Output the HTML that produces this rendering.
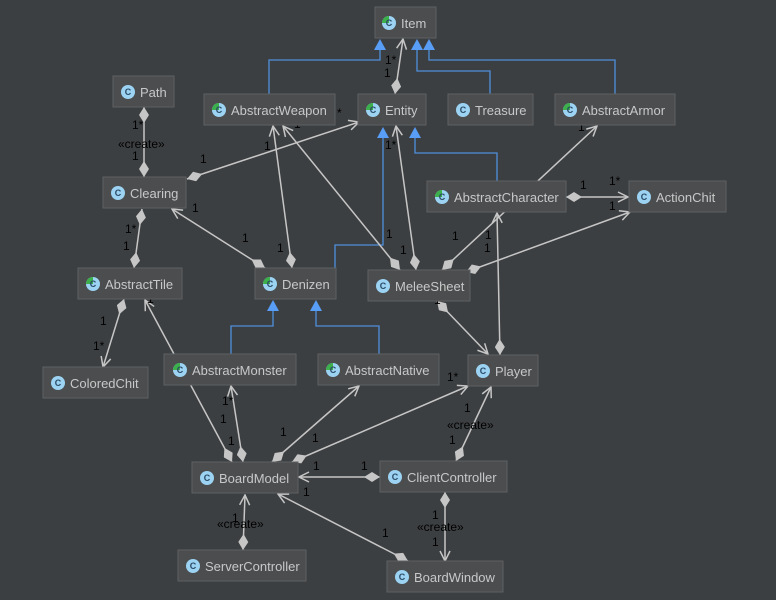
<!DOCTYPE html>
<html><head><meta charset="utf-8"><style>
html,body{margin:0;padding:0;background:#3c3f41;}
svg{display:block;font-family:"Liberation Sans",sans-serif;}
.n rect{fill:#4b4d4f;stroke:#5e6062;stroke-width:1;}
.l{stroke:#c6c6c6;stroke-width:1.5;fill:none;}
.g{stroke:#4f8fdc;stroke-width:1.3;fill:none;}
.t{font-size:12px;fill:#000;}
</style></head><body>
<svg width="776" height="600" viewBox="0 0 776 600" xmlns="http://www.w3.org/2000/svg">
<defs>
<marker id="a" viewBox="0 0 12 12" refX="11" refY="6" markerWidth="12" markerHeight="12" markerUnits="userSpaceOnUse" orient="auto"><path d="M1,1 L11,6 L1,11" fill="none" stroke="#c6c6c6" stroke-width="1.5"/></marker>
<marker id="d" viewBox="0 0 16 10" refX="16" refY="5" markerWidth="16" markerHeight="10" markerUnits="userSpaceOnUse" orient="auto-start-reverse"><path d="M0,5 L8,0 L16,5 L8,10 Z" fill="#c6c6c6"/></marker>
</defs>

<g class="g">
<polyline points="269,94 269,60 380,60 380,50"/>
<polyline points="490,94 490,71 417,71 417,50"/>
<polyline points="615,94 615,60 429,60 429,50"/>
<polyline points="335,268 335,245 383,245 383,138"/>
<polyline points="497,181 497,153 415,153 415,138"/>
<polyline points="231,354 231,326 273,326 273,311"/>
<polyline points="379,354 379,326 316,326 316,311"/>
</g>
<g fill="#589df6">
<path d="M374,50 L380,39 L386,50 Z"/>
<path d="M411,50 L417,39 L423,50 Z"/>
<path d="M423,50 L429,39 L435,50 Z"/>
<path d="M377,138 L383,127 L389,138 Z"/>
<path d="M409,138 L415,127 L421,138 Z"/>
<path d="M267,311 L273,300 L279,311 Z"/>
<path d="M310,311 L316,300 L322,311 Z"/>
</g>

<g class="l">
<line x1="144" y1="107" x2="144" y2="177" marker-start="url(#d)" marker-end="url(#d)"/>
<line x1="395" y1="94" x2="403" y2="39" marker-start="url(#d)" marker-end="url(#a)"/>
<line x1="187" y1="179" x2="359" y2="122" marker-start="url(#d)" marker-end="url(#a)"/>
<line x1="142" y1="209" x2="134" y2="268" marker-start="url(#d)" marker-end="url(#d)"/>
<line x1="265" y1="268" x2="172" y2="209" marker-start="url(#d)" marker-end="url(#a)"/>
<line x1="292" y1="268" x2="273" y2="126" marker-start="url(#d)" marker-end="url(#a)"/>
<line x1="400" y1="270" x2="283" y2="126" marker-start="url(#d)" marker-end="url(#a)"/>
<line x1="416" y1="270" x2="396" y2="126" marker-start="url(#d)" marker-end="url(#a)"/>
<line x1="442" y1="270" x2="597" y2="126" marker-start="url(#d)" marker-end="url(#a)"/>
<line x1="466" y1="272" x2="630" y2="212" marker-start="url(#d)" marker-end="url(#a)"/>
<line x1="566" y1="197" x2="628" y2="197" marker-start="url(#d)" marker-end="url(#a)"/>
<line x1="500" y1="355" x2="497" y2="213" marker-start="url(#d)" marker-end="url(#a)"/>
<line x1="437" y1="301" x2="488" y2="354" marker-start="url(#d)" marker-end="url(#a)"/>
<line x1="124" y1="299" x2="103" y2="367" marker-start="url(#d)" marker-end="url(#a)"/>
<line x1="232" y1="462" x2="145" y2="300" marker-start="url(#d)" marker-end="url(#a)"/>
<line x1="243" y1="462" x2="231" y2="386" marker-start="url(#d)" marker-end="url(#a)"/>
<line x1="272" y1="462" x2="359" y2="386" marker-start="url(#d)" marker-end="url(#a)"/>
<line x1="292" y1="462" x2="468" y2="386" marker-start="url(#d)" marker-end="url(#a)"/>
<line x1="380" y1="477" x2="299" y2="477" marker-start="url(#d)" marker-end="url(#a)"/>
<line x1="456" y1="461" x2="491" y2="387" marker-start="url(#d)" marker-end="url(#a)"/>
<line x1="445" y1="492" x2="445" y2="561" marker-start="url(#d)" marker-end="url(#a)"/>
<line x1="408" y1="561" x2="278" y2="494" marker-start="url(#d)" marker-end="url(#a)"/>
<line x1="243" y1="550" x2="245" y2="495" marker-start="url(#d)" marker-end="url(#a)"/>
</g>

<g class="t">
<text x="132" y="129">1*</text><text x="118" y="148">«create»</text><text x="132" y="160">1</text>
<text x="385" y="64">1*</text><text x="384" y="77">1</text>
<text x="200" y="163">1</text><text x="264" y="150">1</text><text x="294" y="128">1</text><text x="337" y="117">*</text>
<text x="192" y="212">1</text><text x="125" y="233">1*</text><text x="123" y="250">1</text>
<text x="242" y="242">1</text><text x="277" y="252">1</text>
<text x="385" y="149">1*</text><text x="386" y="238">1</text><text x="400" y="254">1</text><text x="452" y="240">1</text><text x="485" y="239">1</text><text x="484" y="252">1</text>
<text x="578" y="131">1</text><text x="580" y="189">1</text><text x="609" y="185">1*</text><text x="609" y="210">1</text>
<text x="147" y="303">1</text><text x="100" y="325">1</text><text x="93" y="350">1*</text>
<text x="434" y="304">1</text>
<text x="222" y="405">1*</text><text x="220" y="423">1</text><text x="228" y="445">1</text>
<text x="280" y="436">1</text><text x="312" y="442">1</text><text x="337" y="387">*</text><text x="447" y="381">1*</text>
<text x="313" y="470">1</text><text x="361" y="470">1</text><text x="303" y="496">1</text>
<text x="464" y="412">1</text><text x="447" y="429">«create»</text><text x="449" y="444">1</text>
<text x="432" y="519">1</text><text x="417" y="531">«create»</text><text x="432" y="546">1</text>
<text x="382" y="537">1</text>
<text x="232" y="522">1</text><text x="217" y="528">«create»</text>
</g>

<g class="n">
<rect x="375" y="7" width="61" height="31"/>
<rect x="113" y="76" width="61" height="31"/>
<rect x="204" y="94" width="131" height="31"/>
<rect x="358" y="94" width="68" height="31"/>
<rect x="448" y="94" width="85" height="31"/>
<rect x="555" y="94" width="120" height="31"/>
<rect x="103" y="177" width="83" height="31"/>
<rect x="427" y="181" width="139" height="31"/>
<rect x="629" y="181" width="97" height="31"/>
<rect x="78" y="268" width="104" height="31"/>
<rect x="255" y="268" width="81" height="31"/>
<rect x="368" y="270" width="102" height="31"/>
<rect x="43" y="367" width="105" height="31"/>
<rect x="164" y="354" width="132" height="31"/>
<rect x="318" y="354" width="121" height="31"/>
<rect x="468" y="355" width="70" height="31"/>
<rect x="192" y="462" width="106" height="31"/>
<rect x="380" y="461" width="127" height="31"/>
<rect x="178" y="550" width="128" height="31"/>
<rect x="387" y="561" width="116" height="31"/>
</g>
<g fill="#9cd3f2">
<circle cx="389" cy="23" r="7"/><circle cx="128" cy="92" r="7"/><circle cx="219" cy="110" r="7"/><circle cx="373" cy="110" r="7"/><circle cx="463" cy="110" r="7"/><circle cx="570" cy="110" r="7"/><circle cx="118" cy="193" r="7"/><circle cx="442" cy="197" r="7"/><circle cx="644" cy="197" r="7"/><circle cx="93" cy="284" r="7"/><circle cx="270" cy="284" r="7"/><circle cx="383" cy="286" r="7"/><circle cx="58" cy="383" r="7"/><circle cx="180" cy="370" r="7"/><circle cx="333" cy="370" r="7"/><circle cx="483" cy="371" r="7"/><circle cx="207" cy="478" r="7"/><circle cx="395" cy="477" r="7"/><circle cx="193" cy="566" r="7"/><circle cx="402" cy="577" r="7"/>
</g>
<g fill="#3cb04a">
<path d="M389,23 L389,16 A7,7 0 0 0 382,23 Z"/><path d="M219,110 L219,103 A7,7 0 0 0 212,110 Z"/><path d="M373,110 L373,103 A7,7 0 0 0 366,110 Z"/><path d="M570,110 L570,103 A7,7 0 0 0 563,110 Z"/><path d="M442,197 L442,190 A7,7 0 0 0 435,197 Z"/><path d="M93,284 L93,277 A7,7 0 0 0 86,284 Z"/><path d="M270,284 L270,277 A7,7 0 0 0 263,284 Z"/><path d="M180,370 L180,363 A7,7 0 0 0 173,370 Z"/><path d="M333,370 L333,363 A7,7 0 0 0 326,370 Z"/>
</g>
<g font-size="9" fill="#2a4a66" font-weight="bold" text-anchor="middle">
<text x="389" y="26">C</text><text x="128" y="95">C</text><text x="219" y="113">C</text><text x="373" y="113">C</text><text x="463" y="113">C</text><text x="570" y="113">C</text><text x="118" y="196">C</text><text x="442" y="200">C</text><text x="644" y="200">C</text><text x="93" y="287">C</text><text x="270" y="287">C</text><text x="383" y="289">C</text><text x="58" y="386">C</text><text x="180" y="373">C</text><text x="333" y="373">C</text><text x="483" y="374">C</text><text x="207" y="481">C</text><text x="395" y="480">C</text><text x="193" y="569">C</text><text x="402" y="580">C</text>
</g>
<g font-size="13" fill="#c8c8c8">
<text x="401" y="28">Item</text><text x="140" y="97">Path</text><text x="231" y="115">AbstractWeapon</text><text x="385" y="115">Entity</text><text x="475" y="115">Treasure</text><text x="582" y="115">AbstractArmor</text><text x="130" y="198">Clearing</text><text x="454" y="202">AbstractCharacter</text><text x="656" y="202">ActionChit</text><text x="105" y="289">AbstractTile</text><text x="282" y="289">Denizen</text><text x="395" y="291">MeleeSheet</text><text x="70" y="388">ColoredChit</text><text x="192" y="375">AbstractMonster</text><text x="345" y="375">AbstractNative</text><text x="495" y="376">Player</text><text x="219" y="483">BoardModel</text><text x="407" y="482">ClientController</text><text x="205" y="571">ServerController</text><text x="414" y="582">BoardWindow</text>
</g>
</svg>
</body></html>
